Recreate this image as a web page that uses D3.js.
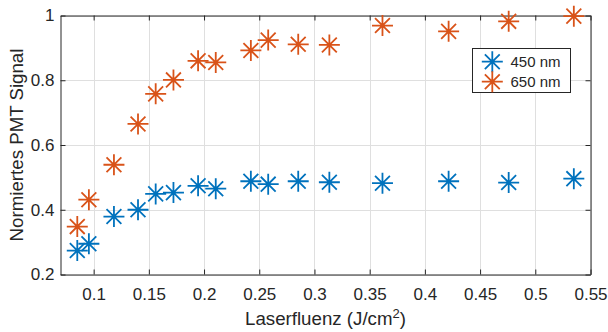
<!DOCTYPE html>
<html><head><meta charset="utf-8">
<script src="https://cdn.jsdelivr.net/npm/d3@7"></script>
<style>body{margin:0;background:#fff}svg{display:block}text{font-family:"Liberation Sans",Arial,sans-serif;fill:#262626}</style>
</head><body><svg id="c" width="608" height="332"></svg>
<script>
const xTicks = [0.1,0.15,0.2,0.25,0.3,0.35,0.4,0.45,0.5,0.55];
const yTicks = [0.2,0.4,0.6,0.8,1];
const fluence = [0.0852,0.0957,0.1184,0.1402,0.1562,0.1723,0.1946,0.2106,0.2424,0.2581,0.2853,0.3135,0.3616,0.4215,0.4759,0.5349];
const sig450 = [0.274,0.295,0.379,0.400,0.449,0.453,0.474,0.465,0.488,0.479,0.488,0.485,0.482,0.488,0.484,0.496];
const sig650 = [0.348,0.431,0.539,0.665,0.758,0.801,0.860,0.855,0.892,0.924,0.911,0.909,0.969,0.951,0.982,0.998];
const seriesNames = ["450 nm","650 nm"];
const colors = ["#0072BD","#D95319"];

const svg = d3.select("#c");
const L=60.5,R=590.5,T=15.5,B=274.5;
const x = d3.scaleLinear().domain([0.07,0.55]).range([L,R]);
const y = d3.scaleLinear().domain([0.2,1]).range([B,T]);
const axc="#262626";

// grid
const g = svg.append("g");
g.selectAll(".gx").data(xTicks).join("line").attr("x1",d=>Math.round(x(d))+0.5).attr("x2",d=>Math.round(x(d))+0.5).attr("y1",T).attr("y2",B).attr("stroke","#dfdfdf").attr("stroke-width",1);
g.selectAll(".gy").data(yTicks).join("line").attr("y1",d=>Math.round(y(d))+0.5).attr("y2",d=>Math.round(y(d))+0.5).attr("x1",L).attr("x2",R).attr("stroke","#dfdfdf").attr("stroke-width",1);

// axes
const fmt = d=>String(d);
const ax = svg.append("g").attr("transform",`translate(0,${B})`).call(d3.axisBottom(x).tickValues(xTicks).tickFormat(fmt).tickSizeInner(-5).tickSizeOuter(0).tickPadding(13));
const axt = svg.append("g").attr("transform",`translate(0,${T})`).call(d3.axisTop(x).tickValues(xTicks).tickFormat("").tickSizeInner(-5).tickSizeOuter(0));
const ay = svg.append("g").attr("transform",`translate(${L},0)`).call(d3.axisLeft(y).tickValues(yTicks).tickFormat(fmt).tickSizeInner(-5).tickSizeOuter(0).tickPadding(6));
const ayr = svg.append("g").attr("transform",`translate(${R},0)`).call(d3.axisRight(y).tickValues(yTicks).tickFormat("").tickSizeInner(-5).tickSizeOuter(0));
[ax,axt,ay,ayr].forEach(a=>{a.select(".domain").attr("stroke",axc).attr("stroke-width",1);a.selectAll(".tick line").attr("stroke",axc);a.selectAll("text").style("font-size","17px").attr("fill",axc);});

// markers
function star(r){const d=r*Math.SQRT1_2;return `M${-r},0L${r},0M0,${-r}L0,${r}M${-d},${-d}L${d},${d}M${-d},${d}L${d},${-d}`;}
const series=[sig450,sig650];
series.forEach((s,i)=>{
  svg.append("g").selectAll("path").data(fluence.map((f,j)=>[f,s[j]])).join("path")
    .attr("transform",d=>`translate(${x(d[0])},${y(d[1])})`).attr("d",star(10.5))
    .attr("stroke",colors[i]).attr("stroke-width",1.8).attr("fill","none");
});

// labels
svg.append("text").attr("x",(L+R)/2).attr("y",325).attr("text-anchor","middle").style("font-size","18.7px")
  .html('Laserfluenz (J/cm<tspan dy="-7" style="font-size:13px">2</tspan><tspan dy="7">)</tspan>');
svg.append("text").attr("transform",`translate(23,${(T+B)/2}) rotate(-90)`).attr("text-anchor","middle").style("font-size","18.7px").text("Normiertes PMT Signal");

// legend
const lg = svg.append("g");
lg.append("rect").attr("x",472.5).attr("y",48.5).attr("width",98).attr("height",44).attr("fill","#fff").attr("stroke",axc).attr("stroke-width",1);
seriesNames.forEach((n,i)=>{
  const cy=61.7+i*20;
  lg.append("path").attr("transform",`translate(492.3,${cy})`).attr("d",star(10.5)).attr("stroke",colors[i]).attr("stroke-width",1.8).attr("fill","none");
  lg.append("text").attr("x",510.5).attr("y",cy+5.5).style("font-size","15px").text(n);
});
</script></body></html>
